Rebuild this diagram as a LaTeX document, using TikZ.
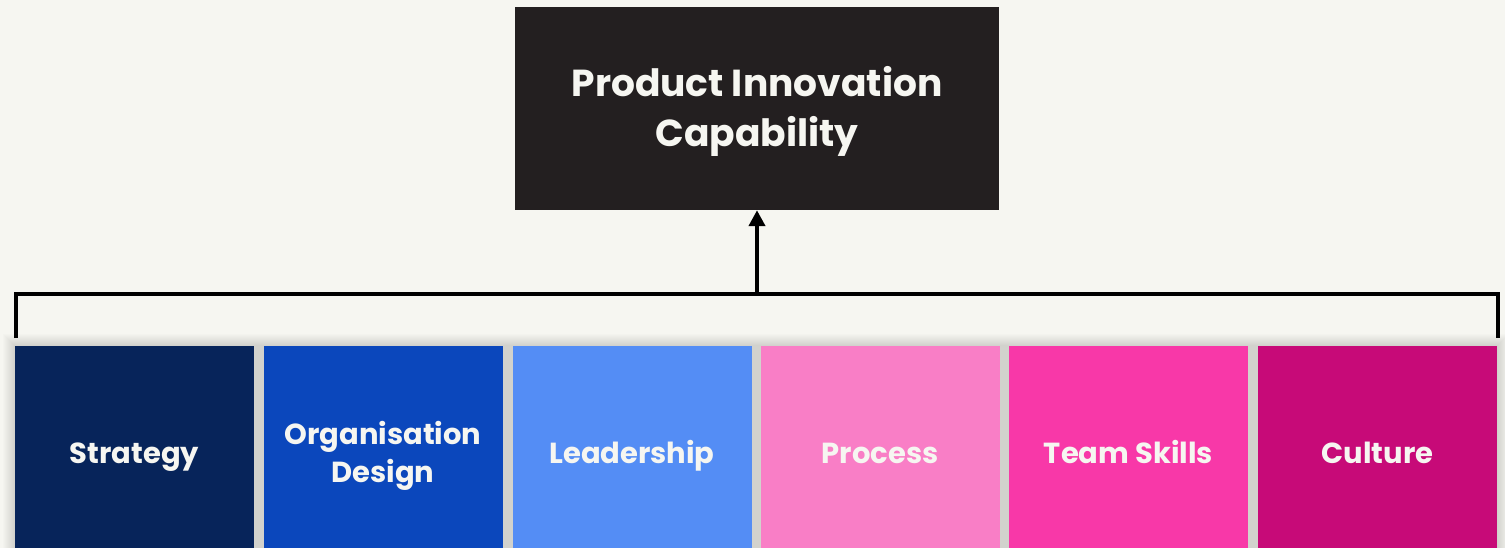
\documentclass[tikz,border=0pt]{standalone}
\usepackage{fontspec}
\setmainfont{Poppins}
\usetikzlibrary{arrows.meta}

\definecolor{paper}{HTML}{F6F6F1}
\definecolor{ink}{HTML}{231F20}
\definecolor{navy}{HTML}{07245A}
\definecolor{royal}{HTML}{0B47BC}
\definecolor{sky}{HTML}{548DF5}
\definecolor{blush}{HTML}{F97EC6}
\definecolor{hotpink}{HTML}{F838A8}
\definecolor{magenta}{HTML}{C70A78}

\tikzset{
  pillar/.style={minimum width=239pt, minimum height=214pt, inner sep=0pt,
    text height=21pt, text depth=0pt,
    text=paper, align=center, font=\bfseries\fontsize{29}{38}\selectfont},
  twolines/.style={text height=59pt},
  goal/.style={fill=ink, minimum width=484pt, minimum height=203pt, inner sep=0pt,
    text height=77pt, text depth=0pt,
    text=paper, align=center, font=\bfseries\fontsize{37.6}{50}\selectfont},
  link/.style={line width=4pt, draw=black, line join=miter},
}

\begin{document}
\begin{tikzpicture}[x=1pt,y=-1pt]
  \fill[paper] (0,0) rectangle (1505,548);
  \useasboundingbox (0,0) rectangle (1505,548);

  % soft shadow behind the row of pillars
  \foreach \i in {1,...,12}
    \fill[black,opacity=0.01] (15-\i,346-\i) rectangle (1497+\i,548);

  \node[goal] (pic) at (757,108.5) {Product Innovation\\Capability};

  \node[pillar, fill=navy]    (strategy)   at (134.5,453) {Strategy};
  \node[pillar, twolines, fill=royal] (orgdesign) at (383,453) {Organisation\\Design};
  \node[pillar, fill=sky]     (leadership) at (632,453)   {Leadership};
  \node[pillar, fill=blush]   (process)    at (880,453)   {Process};
  \node[pillar, fill=hotpink] (teamskills) at (1128.5,453){Team Skills};
  \node[pillar, fill=magenta] (culture)    at (1377.5,453){Culture};

  % bracket over the pillars and the arrow up to the goal
  \coordinate (bl) at (16,338);
  \coordinate (br) at (1498,338);
  \coordinate (joint) at (757,294);
  \draw[link] (bl) |- (joint) -| (br);
  \draw[link, -{Triangle[width=16pt,length=16pt]}] (joint) -- (pic.south);
\end{tikzpicture}
\end{document}
